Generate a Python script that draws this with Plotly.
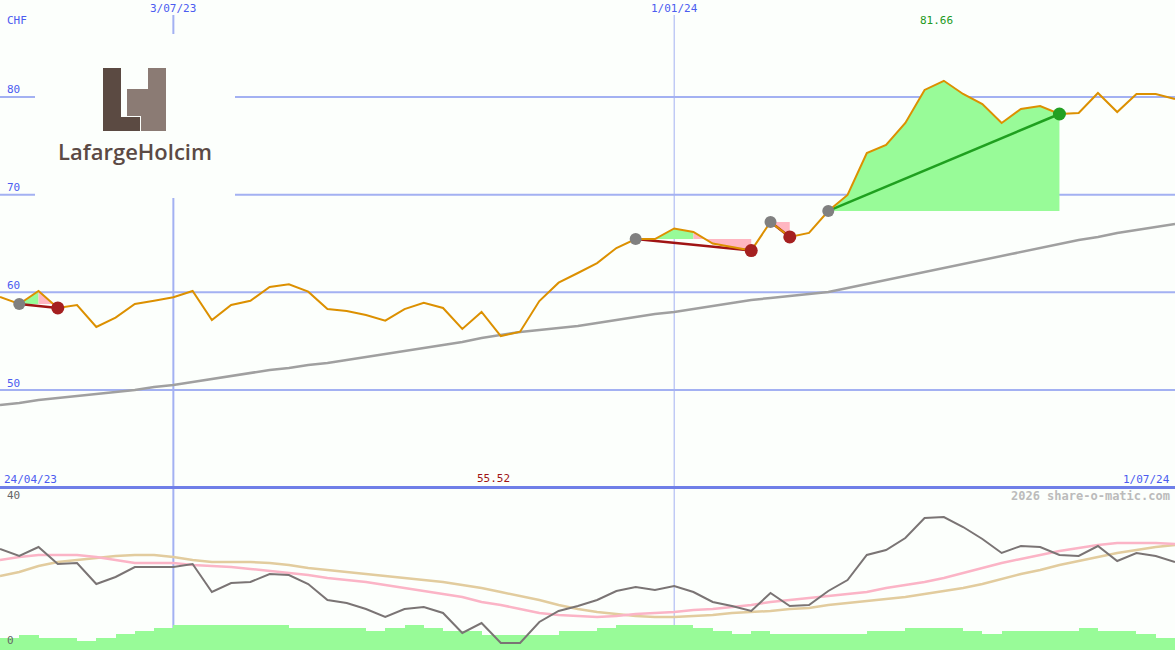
import pandas as pd
import plotly.graph_objects as go

# ---------------- data ----------------
dates = pd.date_range("2023-05-01", periods=62, freq="7D")

price = [59.52, 58.81, 60.14, 58.40, 58.70, 56.45, 57.42, 58.81, 59.14, 59.49,
         60.14, 57.17, 58.70, 59.14, 60.55, 60.82, 60.07, 58.29, 58.09, 57.68,
         57.10, 58.29, 58.94, 58.40, 56.25, 57.99, 55.52, 55.97, 59.11, 60.99,
         61.98, 63.00, 64.54, 65.46, 65.46, 66.54, 66.18, 65.00, 64.64, 64.28,
         67.20, 65.67, 66.08, 68.33, 69.97, 74.27, 75.09, 77.34, 80.72, 81.66,
         80.31, 79.28, 77.34, 78.77, 79.08, 78.26, 78.36, 80.41, 78.46, 80.31,
         80.31, 79.80]

ma_long = [48.47, 48.67, 48.98, 49.18, 49.39, 49.59, 49.80, 50.00, 50.31, 50.51,
           50.82, 51.13, 51.43, 51.74, 52.05, 52.25, 52.56, 52.77, 53.07, 53.38,
           53.69, 53.99, 54.30, 54.61, 54.92, 55.33, 55.63, 55.94, 56.14, 56.35,
           56.55, 56.86, 57.17, 57.47, 57.78, 57.99, 58.29, 58.60, 58.91, 59.22,
           59.42, 59.63, 59.83, 60.03, 60.44, 60.85, 61.26, 61.67, 62.08, 62.49,
           62.90, 63.31, 63.72, 64.13, 64.54, 64.95, 65.36, 65.67, 66.08, 66.38,
           66.69, 67.00]

osc = [27.03, 25.10, 27.59, 22.90, 23.17, 17.38, 19.31, 22.07, 22.07, 22.07,
       22.90, 15.17, 17.66, 17.93, 20.14, 19.86, 17.38, 12.97, 12.14, 10.48,
       8.28, 10.48, 11.03, 9.38, 3.86, 6.62, 1.10, 1.10, 6.90, 9.93,
       11.31, 12.97, 15.45, 16.55, 15.72, 16.83, 15.17, 12.41, 11.31, 9.93,
       14.90, 11.31, 11.59, 15.45, 18.48, 25.38, 26.76, 30.07, 35.59, 35.86,
       33.10, 29.79, 25.93, 27.86, 27.59, 25.38, 25.10, 27.86, 23.72, 25.93,
       25.10, 23.45]

osc_pink = [24.00, 24.83, 25.38, 25.38, 25.38, 24.83, 24.00, 23.17, 23.17, 23.17,
            22.62, 22.34, 22.07, 21.52, 20.97, 20.41, 19.86, 19.03, 18.48, 17.93,
            17.10, 16.28, 15.45, 14.62, 13.79, 12.41, 11.59, 10.48, 9.38, 8.83,
            8.55, 8.28, 8.55, 9.10, 9.38, 9.66, 10.21, 10.48, 11.03, 11.59,
            12.41, 12.97, 13.52, 14.07, 14.62, 15.17, 16.28, 17.10, 17.93, 19.03,
            20.41, 21.79, 23.17, 24.28, 25.38, 26.48, 27.31, 28.14, 28.69, 28.69,
            28.69, 28.41]

osc_tan = [19.59, 20.69, 22.34, 23.45, 24.00, 24.55, 25.10, 25.38, 25.38, 24.83,
           24.00, 23.45, 23.45, 23.45, 23.17, 22.62, 21.79, 21.24, 20.69, 20.14,
           19.59, 19.03, 18.48, 17.93, 17.10, 16.28, 15.17, 14.07, 12.97, 11.59,
           10.48, 9.66, 9.10, 8.55, 8.28, 8.28, 8.55, 8.83, 9.38, 9.66,
           9.93, 10.48, 10.76, 11.59, 12.14, 12.69, 13.24, 13.79, 14.62, 15.45,
           16.28, 17.38, 18.76, 20.14, 21.24, 22.62, 23.72, 24.83, 25.93, 26.76,
           27.59, 28.14]

volume = [1.17, 1.50, 1.23, 1.23, 0.90, 1.23, 1.57, 1.90, 2.23, 2.50,
          2.50, 2.50, 2.50, 2.50, 2.50, 2.23, 2.23, 2.23, 2.23, 1.90,
          2.23, 2.50, 2.23, 1.90, 1.90, 1.50, 1.50, 1.50, 1.50, 1.90,
          1.90, 2.23, 2.50, 2.50, 2.50, 2.50, 2.23, 1.90, 1.57, 1.90,
          1.57, 1.57, 1.57, 1.57, 1.57, 1.90, 1.90, 2.23, 2.23, 2.23,
          1.90, 1.57, 1.90, 1.90, 1.90, 1.90, 2.23, 1.90, 1.90, 1.57,
          1.23]

sig_start = [1, 33, 40, 43]
sig_end = [3, 39, 41, 55]
sig_kind = ["loss", "loss", "loss", "gain"]

price_ticks = [80, 70, 60, 50]
osc_ticks = [40, 0]
date_marks = ["2023-07-03", "2024-01-01"]
date_mark_labels = ["3/07/23", "1/01/24"]
start_label = "24/04/23"
end_label = "1/07/24"
max_label = "81.66"
min_label = "55.52"

# ---------------- styling ----------------
W, H = 1175, 650
BG = "#FCFFFC"
GRID = "#A3B1F2"
SEP = "#6F7FE8"
TXT_BLUE = "#4B5CF0"
PRICE_C = "#DC9000"
MA_C = "#A0A0A0"
GREEN_F = "#98FB98"
PINK_F = "#FFB6C1"
FONT = "DejaVu Sans Mono"


def px(x):
    return x / W


def py(y):
    return 1 - y / H


fig = go.Figure()

# signal fills: one polygon per run of weeks with the same colour
for s, e, kind in zip(sig_start, sig_end, sig_kind):
    base = price[s]
    runs = []
    for k in range(s, e):
        col = GREEN_F if price[k + 1] > base else PINK_F
        if runs and runs[-1][2] == col:
            runs[-1][1] = k + 1
        else:
            runs.append([k, k + 1, col])
    for a, b, col in runs:
        xs = [dates[a]] + list(dates[a:b + 1]) + [dates[b], dates[a]]
        ys = [base] + price[a:b + 1] + [base, base]
        fig.add_trace(go.Scatter(x=xs, y=ys, fill="toself", fillcolor=col, mode="none",
                                 hoverinfo="skip", showlegend=False, xaxis="x", yaxis="y"))

# long moving average
fig.add_trace(go.Scatter(x=dates, y=ma_long, mode="lines",
                         line=dict(color=MA_C, width=2.5), showlegend=False,
                         xaxis="x", yaxis="y"))

# signal connecting lines
for s, e, kind in zip(sig_start, sig_end, sig_kind):
    col = "#1FA01F" if kind == "gain" else "#A01414"
    fig.add_trace(go.Scatter(x=[dates[s], dates[e]], y=[price[s], price[e]],
                             mode="lines", line=dict(color=col, width=2.5),
                             showlegend=False, xaxis="x", yaxis="y"))

# price line
fig.add_trace(go.Scatter(x=dates, y=price, mode="lines",
                         line=dict(color=PRICE_C, width=2), showlegend=False,
                         xaxis="x", yaxis="y"))

# signal dots
for s, e, kind in zip(sig_start, sig_end, sig_kind):
    end_col = "#22A022" if kind == "gain" else "#A52020"
    fig.add_trace(go.Scatter(x=[dates[s]], y=[price[s]], mode="markers",
                             marker=dict(color="#808080", size=12),
                             showlegend=False, xaxis="x", yaxis="y"))
    fig.add_trace(go.Scatter(x=[dates[e]], y=[price[e]], mode="markers",
                             marker=dict(color=end_col, size=13),
                             showlegend=False, xaxis="x", yaxis="y"))

# volume bars (base lower axis)
fig.add_trace(go.Bar(x=dates[:len(volume)], y=volume,
                     marker=dict(color=GREEN_F, line=dict(width=0)),
                     width=7 * 86400000, offset=0, showlegend=False,
                     xaxis="x", yaxis="y2"))

# oscillator lines (overlaying axis, drawn above bars)
fig.add_trace(go.Scatter(x=dates, y=osc_tan, mode="lines",
                         line=dict(color="#E2CC9E", width=2.5), showlegend=False,
                         xaxis="x", yaxis="y3"))
fig.add_trace(go.Scatter(x=dates, y=osc_pink, mode="lines",
                         line=dict(color="#FBB4C6", width=2.5), showlegend=False,
                         xaxis="x", yaxis="y3"))
fig.add_trace(go.Scatter(x=dates, y=osc, mode="lines",
                         line=dict(color="#7A7474", width=2), showlegend=False,
                         xaxis="x", yaxis="y3"))

shapes = []
for v in price_ticks:
    shapes.append(dict(type="line", xref="paper", yref="y", x0=0, x1=1, y0=v, y1=v,
                       line=dict(color=GRID, width=2), layer="between"))
for d, wdt in zip(date_marks, [2, 1]):
    shapes.append(dict(type="line", xref="x", yref="paper", x0=d, x1=d,
                       y0=0, y1=py(15), line=dict(color=GRID, width=wdt), layer="between"))
shapes.append(dict(type="line", xref="paper", yref="paper", x0=0, x1=1,
                   y0=py(487.5), y1=py(487.5), line=dict(color=SEP, width=3), layer="between"))
shapes.append(dict(type="rect", xref="paper", yref="paper", x0=px(35), x1=px(235),
                   y0=py(198), y1=py(34), fillcolor=BG, line=dict(width=0),
                   layer="between"))
LIGHT = "#8B7B74"
DARK = "#5B4A42"
shapes += [
    dict(type="rect", xref="paper", yref="paper", x0=px(127), x1=px(166), y0=py(131), y1=py(89),
         fillcolor=LIGHT, line=dict(width=0), layer="between"),
    dict(type="rect", xref="paper", yref="paper", x0=px(148), x1=px(166), y0=py(131), y1=py(68),
         fillcolor=LIGHT, line=dict(width=0), layer="between"),
    dict(type="rect", xref="paper", yref="paper", x0=px(103), x1=px(141), y0=py(132), y1=py(116),
         fillcolor=BG, line=dict(width=0), layer="between"),
    dict(type="rect", xref="paper", yref="paper", x0=px(103), x1=px(140), y0=py(131), y1=py(117),
         fillcolor=DARK, line=dict(width=0), layer="between"),
    dict(type="rect", xref="paper", yref="paper", x0=px(103), x1=px(121), y0=py(131), y1=py(68),
         fillcolor=DARK, line=dict(width=0), layer="between"),
]

ann = []
ann.append(dict(text="LafargeHolcim", xref="paper", yref="paper", x=px(135), y=py(151),
                xanchor="center", yanchor="middle", showarrow=False,
                font=dict(family="Open Sans", size=22, color="#5B4A44", weight=600)))
ann.append(dict(text="CHF", xref="paper", yref="paper", x=px(5), y=py(20),
                xanchor="left", yanchor="middle", showarrow=False,
                font=dict(family=FONT, size=11, color=TXT_BLUE)))
for v in price_ticks:
    ann.append(dict(text=str(v), xref="paper", yref="y", x=px(5), y=v, yshift=7,
                    xanchor="left", yanchor="middle", showarrow=False,
                    font=dict(family=FONT, size=11, color=TXT_BLUE)))
for v in osc_ticks:
    ann.append(dict(text=str(v), xref="paper", yref="y3", x=px(5), y=v, yshift=6,
                    xanchor="left", yanchor="middle", showarrow=False,
                    font=dict(family=FONT, size=11, color="#666666")))
for d, lab in zip(date_marks, date_mark_labels):
    ann.append(dict(text=lab, xref="x", yref="paper", x=d, y=py(8),
                    xanchor="center", yanchor="middle", showarrow=False,
                    font=dict(family=FONT, size=11, color=TXT_BLUE)))
imax = price.index(max(price))
imin = price.index(min(price))
ann.append(dict(text=max_label, xref="x", yref="paper", x=dates[imax], y=py(20), xshift=-7,
                xanchor="center", yanchor="middle", showarrow=False,
                font=dict(family=FONT, size=11, color="#229922")))
ann.append(dict(text=min_label, xref="x", yref="paper", x=dates[imin], y=py(478), xshift=-7,
                xanchor="center", yanchor="middle", showarrow=False,
                font=dict(family=FONT, size=11, color="#A01414")))
ann.append(dict(text=start_label, xref="paper", yref="paper", x=px(2), y=py(479),
                xanchor="left", yanchor="middle", showarrow=False,
                font=dict(family=FONT, size=11, color=TXT_BLUE)))
ann.append(dict(text=end_label, xref="paper", yref="paper", x=px(1172), y=py(479),
                xanchor="right", yanchor="middle", showarrow=False,
                font=dict(family=FONT, size=11, color=TXT_BLUE)))
ann.append(dict(text="2026 share-o-matic.com", xref="paper", yref="paper", x=px(1172), y=py(496),
                xanchor="right", yanchor="middle", showarrow=False,
                font=dict(family=FONT, size=12, color="#BBBBBB", weight="bold")))

fig.update_layout(
    width=W, height=H,
    margin=dict(l=0, r=0, t=0, b=0, pad=0),
    paper_bgcolor=BG, plot_bgcolor=BG,
    showlegend=False, bargap=0,
    xaxis=dict(type="date", range=[dates[0], dates[-1]], showgrid=False, zeroline=False,
               showticklabels=False, ticks="", anchor="y2", showline=False),
    yaxis=dict(domain=[py(487), 1], range=[40.07, 89.93], showgrid=False, zeroline=False,
               showticklabels=False, ticks="", showline=False),
    yaxis2=dict(domain=[0, py(488)], range=[0, 16.2], showgrid=False, zeroline=False,
                showticklabels=False, ticks="", showline=False),
    yaxis3=dict(domain=[0, py(488)], range=[-0.83, 43.86], overlaying="y2", showgrid=False,
                zeroline=False, showticklabels=False, ticks="", showline=False),
    shapes=shapes, annotations=ann,
)

fig.write_html("out.html", config={"displayModeBar": False},
               post_script="document.body.style.margin='0px';document.body.style.background='#FCFFFC';")
